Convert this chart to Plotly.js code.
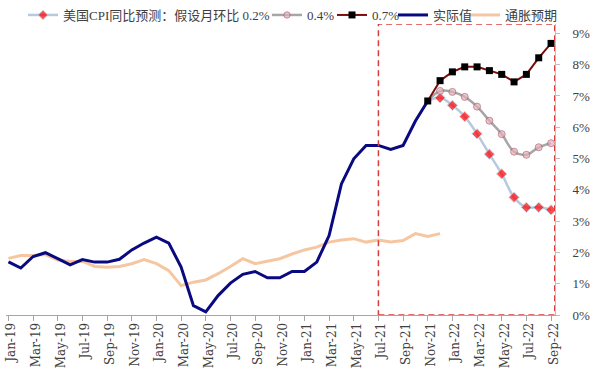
<!DOCTYPE html>
<html>
<head>
<meta charset="utf-8">
<script src="https://cdn.plot.ly/plotly-3.0.1.min.js"></script>
<style>html,body{margin:0;padding:0;background:#fff;}#chart{width:592px;height:381px;}</style>
</head>
<body>
<div id="chart"></div>
<script>
// Month categories Jan-19 .. Sep-22
const categories = [
  'Jan-19','Feb-19','Mar-19','Apr-19','May-19','Jun-19','Jul-19','Aug-19','Sep-19','Oct-19','Nov-19','Dec-19',
  'Jan-20','Feb-20','Mar-20','Apr-20','May-20','Jun-20','Jul-20','Aug-20','Sep-20','Oct-20','Nov-20','Dec-20',
  'Jan-21','Feb-21','Mar-21','Apr-21','May-21','Jun-21','Jul-21','Aug-21','Sep-21','Oct-21','Nov-21','Dec-21',
  'Jan-22','Feb-22','Mar-22','Apr-22','May-22','Jun-22','Jul-22','Aug-22','Sep-22'
];
const tickLabels = categories.filter((_, i) => i % 2 === 0);

// 实际值 (Jan-19 .. Nov-21), %
const actual = [1.7,1.5,1.87,1.99,1.8,1.6,1.77,1.69,1.69,1.78,2.08,2.3,
  2.49,2.3,1.53,0.3,0.1,0.62,1.02,1.3,1.39,1.19,1.19,1.39,
  1.39,1.69,2.54,4.19,4.99,5.42,5.42,5.29,5.42,6.2,6.84];

// 通胀预期 (Jan-19 .. Dec-21), %
const expectation = [1.81,1.9,1.9,1.93,1.76,1.71,1.72,1.55,1.53,1.55,1.64,1.77,
  1.64,1.42,0.94,1.05,1.12,1.32,1.55,1.8,1.64,1.71,1.8,1.95,
  2.08,2.17,2.33,2.4,2.44,2.33,2.4,2.33,2.38,2.6,2.51,2.6];

// Forecasts (Nov-21 .. Sep-22), %
const fc02 = [6.84,6.94,6.70,6.34,5.79,5.14,4.51,3.76,3.44,3.44,3.36];
const fc04 = [6.84,7.16,7.13,6.97,6.66,6.21,5.78,5.22,5.12,5.36,5.49];
const fc07 = [6.84,7.49,7.77,7.93,7.93,7.81,7.69,7.45,7.69,8.22,8.68];

const yTicks = [0,1,2,3,4,5,6,7,8,9];

const actualX = categories.slice(0, actual.length);
const expX = categories.slice(0, expectation.length);
const fcStart = categories.indexOf('Nov-21');
const fcX = categories.slice(fcStart, fcStart + fc02.length);

const legFont = {family: "'Liberation Serif', 'Noto Sans CJK SC', serif", size: 13, color: '#404040'};

const traces = [
  {name: '通胀预期', x: expX, y: expectation, mode: 'lines', type: 'scatter',
   line: {color: '#F6C6A0', width: 3}, legend: 'legend5'},
  {name: '实际值', x: actualX, y: actual, mode: 'lines', type: 'scatter',
   line: {color: '#0A0A80', width: 3}, legend: 'legend4'},
  {name: '美国CPI同比预测：假设月环比 0.2%', x: fcX, y: fc02, mode: 'lines+markers', type: 'scatter',
   line: {color: '#B7C9DD', width: 2.5, shape: 'spline'},
   marker: {symbol: 'diamond', color: '#FF0000', size: fc02.map((_, i) => i === 0 ? 0 : 8)},
   legend: 'legend'},
  {name: '0.4%', x: fcX, y: fc04, mode: 'lines+markers', type: 'scatter',
   line: {color: '#A6A6A6', width: 2.5, shape: 'spline'},
   marker: {symbol: 'circle', color: '#E2B4B8', size: fc04.map((_, i) => i === 0 ? 0 : 7), line: {color: '#B05A72', width: 1}},
   legend: 'legend2'},
  {name: '0.7%', x: fcX, y: fc07, mode: 'lines+markers', type: 'scatter',
   line: {color: '#7B0C0C', width: 2},
   marker: {symbol: 'square', color: '#000000', size: 7},
   legend: 'legend3'}
];

// plot area: x 6..555, y 24..315 (top set through the y domain so legends stay inside the paper)
const plotH = 315;
function leg(xpx) {
  return {orientation: 'h', x: (xpx - 6) / 549, y: (plotH - 15) / plotH, xanchor: 'left', yanchor: 'middle',
          bgcolor: 'rgba(0,0,0,0)', font: legFont};
}

const layout = {
  width: 592, height: 381,
  margin: {l: 6, r: 37, t: 0, b: 66},
  paper_bgcolor: '#ffffff', plot_bgcolor: '#ffffff',
  showlegend: true,
  legend: leg(23), legend2: leg(267), legend3: leg(332), legend4: leg(393), legend5: leg(465),
  xaxis: {
    type: 'category', categoryorder: 'array', categoryarray: categories,
    range: [-0.2, 44.32], showgrid: false, zeroline: false,
    showline: true, linecolor: '#A6A6A6', linewidth: 1,
    ticks: 'outside', ticklen: 5, tickcolor: '#A6A6A6',
    tickmode: 'array', tickvals: tickLabels, ticktext: tickLabels,
    tickangle: -90, ticklabelshift: 3, ticklabelstandoff: -3,
    tickfont: {family: "'DejaVu Serif', serif", size: 12, color: '#404040'},
    automargin: false, fixedrange: true
  },
  yaxis: {
    side: 'right', range: [0, 9.3], domain: [0, (plotH - 24) / plotH],
    showgrid: false, zeroline: false,
    showline: true, linecolor: '#BFBFBF', linewidth: 1,
    ticks: 'outside', ticklen: 4, tickcolor: '#BFBFBF',
    tickmode: 'array', tickvals: yTicks, ticktext: yTicks.map(v => v + '%'),
    ticklabelstandoff: 10,
    tickfont: {family: "'Liberation Serif', serif", size: 13, color: '#404040'},
    automargin: false, fixedrange: true
  },
  shapes: [{
    type: 'rect', xref: 'x', yref: 'y',
    x0: categories.indexOf('Jul-21'), x1: categories.length - 1 + 0.3,
    y0: 0, y1: 9.3,
    line: {color: '#DC3C3C', width: 1.5, dash: '6px,4px'},
    fillcolor: 'rgba(0,0,0,0)', layer: 'above'
  }]
};

Plotly.newPlot('chart', traces, layout, {displayModeBar: false, staticPlot: true});
</script>
</body>
</html>
